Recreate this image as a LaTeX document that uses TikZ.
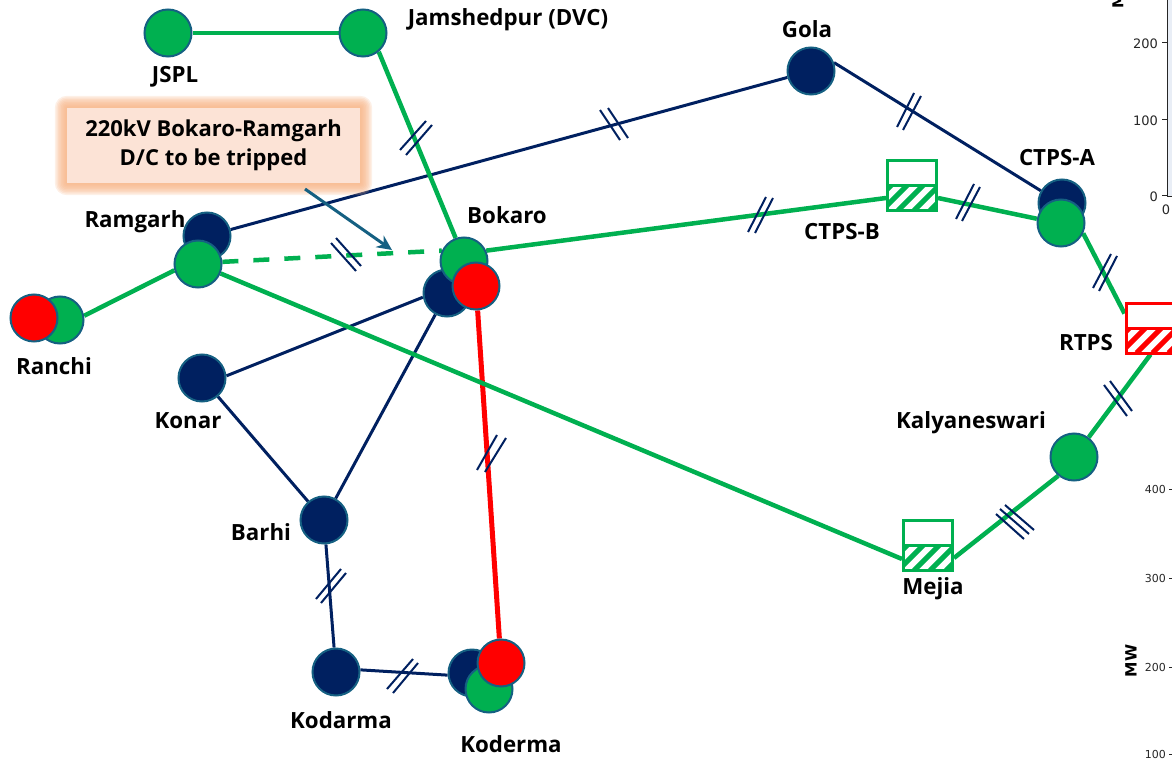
\documentclass[tikz,border=0pt]{standalone}
\usepackage{fontspec}
\setmainfont{Open Sans}
\newfontfamily\chartfont{DejaVu Sans}
\usetikzlibrary{calc,backgrounds,arrows.meta}
\definecolor{navy}{HTML}{002060}
\definecolor{grn}{HTML}{00B050}
\definecolor{rd}{HTML}{FF0000}
\definecolor{rim}{HTML}{156082}
\definecolor{glowc}{HTML}{F7B283}
\definecolor{callfill}{HTML}{FCE3D6}
\definecolor{chartbg}{HTML}{E9EEF6}
\tikzset{
  bus/.style={circle,draw=rim,line width=2pt,minimum size=47pt,inner sep=0pt,fill=#1},
  lbl/.style={font=\bfseries\fontsize{22.3}{26}\selectfont,text=black,inner sep=0pt},
  hatchbox/.style={rectangle,draw=#1,line width=3pt,fill=white,minimum width=49pt,minimum height=50pt,inner sep=0pt,
    path picture={
      \foreach \i in {-78,-62,...,50}{
        \draw[#1,line width=5pt] ([xshift=\i pt]path picture bounding box.south) -- ++(32pt,32pt);
      }
      \fill[white] (path picture bounding box.west) rectangle (path picture bounding box.north east);
      \draw[#1,line width=3pt] (path picture bounding box.west) -- (path picture bounding box.east);
    }},
  nline/.style={navy,line width=3pt},
  gline/.style={grn,line width=4.5pt},
  rline/.style={rd,line width=5pt},
  slash/.style={navy,line width=2pt},
  axisl/.style={font=\chartfont\fontsize{13}{15}\selectfont,text=black!85,inner sep=0pt},
  axism/.style={font=\chartfont\fontsize{11}{13}\selectfont,text=black!85,inner sep=0pt},
  axist/.style={black!85,line width=1pt},
}
\begin{document}
\begin{tikzpicture}[x=1pt,y=-1pt]
\useasboundingbox (0,0) rectangle (1172,759);
\clip (0,0) rectangle (1172,759);

% chart fragments behind
\fill[chartbg] (1167,0) rectangle (1172,196);
\draw[axist] (1167,0) -- (1167,197) -- (1172,197);
\draw[axist] (1162,43) -- (1167,43) (1162,120) -- (1167,120) (1162,196) -- (1167,196);
\node[axisl,anchor=east] (t200) at (1158,44) {200};
\node[axisl,anchor=east] (t100) at (1158,121) {100};
\node[axisl,anchor=east] (t0) at (1158,197) {0};
\node[axisl] (t00) at (1166,210) {0};
\node[font=\chartfont\bfseries\fontsize{15}{17}\selectfont,rotate=90,inner sep=0pt] (tm) at (1118,1) {M};
\node[axism,anchor=east] (m400) at (1166,489) {400};
\node[axism,anchor=east] (m300) at (1166,578) {300};
\node[axism,anchor=east] (m200) at (1166,667) {200};
\node[axism,anchor=east] (m100) at (1166,754) {100};
\draw[axist] (1169,489) -- (1172,489) (1169,578) -- (1172,578) (1169,667) -- (1172,667) (1169,754) -- (1172,754);
\node[font=\chartfont\bfseries\fontsize{15.5}{17}\selectfont,rotate=90,inner sep=0pt] (mw) at (1131,661) {MW};

% buses
\node[bus=grn] (jspl) at (168,33) {};
\node[bus=grn] (jam) at (363,33) {};
\node[bus=navy] (gola) at (811,71) {};
\node[bus=navy] (can) at (1062,203) {};
\node[bus=grn] (cag) at (1061,223) {};
\node[bus=navy] (ramn) at (207,236) {};
\node[bus=grn] (ramg) at (198,264) {};
\node[bus=grn] (rang) at (60,320) {};
\node[bus=rd] (ranr) at (34,318) {};
\node[bus=navy] (kon) at (202,378) {};
\node[bus=navy] (bokn) at (447,293) {};
\node[bus=grn] (bokg) at (464,261) {};
\node[bus=rd] (bokr) at (476,286) {};
\node[bus=navy] (bar) at (324,520) {};
\node[bus=navy] (kod) at (336,672) {};
\node[bus=navy] (kon2) at (472,673) {};
\node[bus=grn] (kog) at (489,689) {};
\node[bus=rd] (kor) at (501,663) {};
\node[bus=grn] (kal) at (1074,457) {};
\node[hatchbox=grn] (ctpsb) at (912,185.5) {};
\node[hatchbox=grn] (mej) at (928,545.5) {};
\node[hatchbox=rd] (rtps) at (1150.5,328) {};

% labels
\node[lbl] (l1) at (175,77) {JSPL};
\node[lbl] (l2) at (508,20) {Jamshedpur (DVC)};
\node[lbl] (l3) at (807,29) {Gola};
\node[lbl] (l4) at (1057,158) {CTPS-A};
\node[lbl] (l5) at (842,232) {CTPS-B};
\node[lbl] (l6) at (507,215) {Bokaro};
\node[lbl] (l7) at (135,222) {Ramgarh};
\node[lbl] (l8) at (54,366) {Ranchi};
\node[lbl] (l9) at (188,421) {Konar};
\node[lbl] (l10) at (1086,343) {RTPS};
\node[lbl] (l11) at (971,423) {Kalyaneswari};
\node[lbl] (l12) at (261,532) {Barhi};
\node[lbl] (l13) at (933,589) {Mejia};
\node[lbl] (l14) at (341,720) {Kodarma};
\node[lbl] (l15) at (511,744) {Koderma};

% callout
\node[rectangle,fill=callfill,minimum width=293pt,minimum height=75pt,inner sep=0pt,align=center,
      font=\bfseries\fontsize{22}{29}\selectfont] (call) at (213.5,145.5)
      {220kV Bokaro-Ramgarh\\D/C to be tripped};

\begin{pgfonlayer}{background}
  % connectors
  \draw[nline] (ramn) -- (gola);
  \draw[nline] (gola.20) -- (can.150);
  \draw[nline] (kon.5) -- (bokn.190);
  \draw[nline] (kon) -- (bar);
  \draw[nline] (bar) -- (bokn);
  \draw[nline] (bar) -- (kod);
  \draw[nline] (kod.5) -- (kon2.185);
  \draw[rline] (bokr) -- (kor);
  \draw[gline] (jspl) -- (jam);
  \draw[gline] (jam.-50) -- (bokg.110);
  \draw[gline] (rang.10) -- (ramg.195);
  \draw[gline,dash pattern=on 16pt off 15pt] (ramg.5) -- (bokg.155);
  \draw[gline] (ramg) -- ($(mej.west)+(0,13.5)$);
  \draw[gline] (bokg.25) -- ($(ctpsb.west)+(0,12.5)$);
  \draw[gline] ($(ctpsb.east)+(0,12.5)$) -- (cag.170);
  \draw[gline] (cag.-25) -- ($(rtps.north west)+(0,12)$);
  \draw[gline] (kal) -- (rtps.south);
  \draw[gline] ($(mej.east)+(0,12.5)$) -- (kal.230);
  % glow
  \foreach \e in {12,10.5,9,7.5,6,4.5,3,1.5}{
    \fill[glowc,opacity=.2,rounded corners=\e pt] ($(call.north west)+(-\e pt,\e pt)$) rectangle ($(call.south east)+(\e pt,-\e pt)$);
  }
\end{pgfonlayer}

% line-count marks
\draw[slash] (400,150) -- (426,121) (406,155) -- (432,125);
\draw[slash] (600,110) -- (620,140) (608,108) -- (628,138);
\draw[slash] (897,127) -- (914,93) (903,130) -- (921,96);
\draw[slash] (748,232) -- (766,197) (755,233) -- (773,198);
\draw[slash] (956,219) -- (974,184) (962,221) -- (980,187);
\draw[slash] (1093,288) -- (1111,254) (1099,291) -- (1117,256);
\draw[slash] (1104,385) -- (1127,416) (1110,381) -- (1132,411);
\draw[slash] (996,514) -- (1024,539) (1000,509) -- (1029,534) (1005,505) -- (1034,530);
\draw[slash] (331,243) -- (356,271) (336,238) -- (361,266);
\draw[slash] (477,470) -- (497,435) (485,472) -- (506,438);
\draw[slash] (316,599) -- (341,569) (321,603) -- (346,573);
\draw[slash] (387,689) -- (413,659) (393,693) -- (418,663);

% callout arrow
\coordinate (arrs) at (305,189);
\coordinate (arre) at (392,250);
\draw[rim,line width=3pt,-{Stealth[length=15pt,width=14pt]}] (arrs) -- (arre);
\end{tikzpicture}
\end{document}
